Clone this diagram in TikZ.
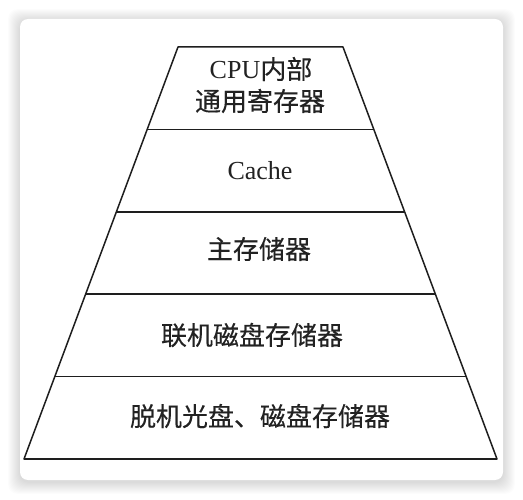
\documentclass[tikz,border=0pt]{standalone}
\usepackage{fontspec}
\setmainfont{Liberation Serif}
\newfontfamily\cjk[FakeBold=0.3]{Noto Sans CJK SC}
\usetikzlibrary{calc}
\definecolor{inkc}{HTML}{1E1E1E}
\definecolor{txtc}{HTML}{222222}
\tikzset{
  lbl/.style={inner sep=0pt, text=txtc, font=\fontsize{26}{30}\selectfont},
  edge/.style={draw=inkc, line width=1.5pt, line join=round},
  divider/.style={draw=inkc, line width=1.7pt},
}
\begin{document}
\begin{tikzpicture}[x=1pt,y=-1pt]
\useasboundingbox (0,0) rectangle (523,500);
\fill[white] (0,0) rectangle (523,500);
% card shadow
\foreach \i in {1,...,12}{
  \fill[black, opacity=0.013, rounded corners=10pt]
    ($(20,21)+(-\i,-\i)$) rectangle ($(503,482)+(\i,\i)$);
}
\fill[white, rounded corners=8pt] (20,19) rectangle (503,480);
% pyramid
\coordinate (tl) at (178,47);
\coordinate (tr) at (343,47);
\coordinate (bl) at (24,459);
\coordinate (br) at (497,459);
\foreach \t in {0.2,0.4,0.6,0.8}{
  \draw[divider] ($(tl)!\t!(bl)$) -- ($(tr)!\t!(br)$);
}
\draw[edge] (tl) -- (tr) -- (br) -- (bl) -- cycle;
\draw[divider, line width=2pt] (bl) -- (br);
% labels
\node[lbl] (r1a) at (261,69) {CPU{\cjk 内部}};
\node[lbl] (r1b) at (260,101) {{\cjk 通用寄存器}};
\node[lbl] (r2) at (260,171) {Cache};
\node[lbl] (r3) at (259,249) {{\cjk 主存储器}};
\node[lbl] (r4) at (252,335) {{\cjk 联机磁盘存储器}};
\node[lbl] (r5) at (260,416) {{\cjk 脱机光盘、磁盘存储器}};
\end{tikzpicture}
\end{document}
